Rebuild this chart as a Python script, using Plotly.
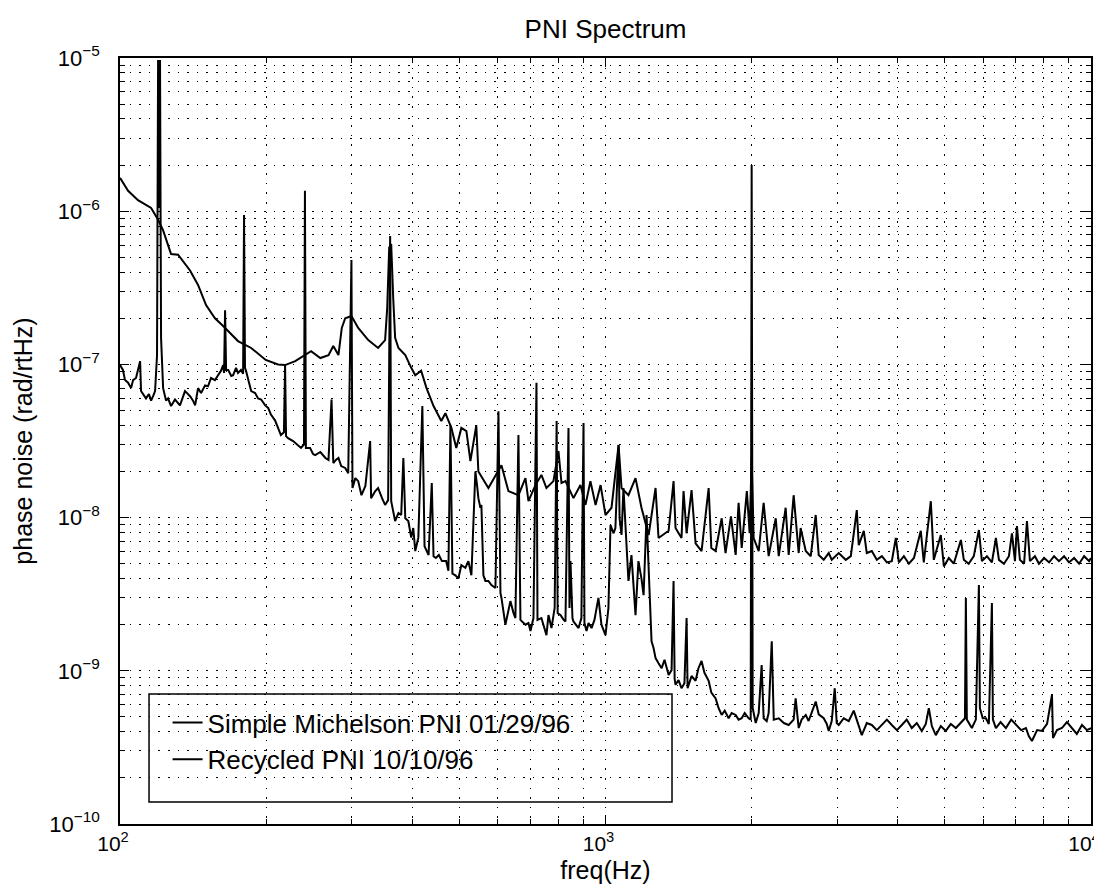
import plotly.graph_objects as go

# ---------------- data ----------------
michelson_freq = [
    100, 103.9, 108.9, 115.9, 119.8, 122.7, 127.4, 131.7, 139.4, 144.8, 150.4, 156.9, 163.1, 175.0,
    186.3, 199.6, 211.6, 218.8, 229.6, 240.4, 247.5, 258.6, 268.8, 275.0, 281.8, 286.3, 291.0, 299.7,
    309.5, 324.6, 340.1, 351.6, 355.1, 358.5, 361.9, 365.4, 368.7, 374.6, 386.9, 398.0, 405.7, 417.1,
    427.9, 442.4, 459.0, 467.9, 481.5, 492.8, 504.8, 517.0, 526.9, 541.8, 547.2, 573.9, 595.8, 610.5,
    631.0, 661.7, 684.1, 693.9, 717.3, 737.9, 755.7, 781.3, 800, 811.6, 827, 851, 859, 888, 909.5,
    931, 954, 977, 1000, 1029, 1064, 1079, 1115, 1153, 1186, 1227, 1268, 1286, 1349, 1381, 1394,
    1434, 1448, 1469, 1504, 1533, 1577, 1631, 1652, 1686, 1735, 1767, 1813, 1854, 1880, 1908, 1955,
    1981, 2000, 2019, 2068, 2117, 2168, 2242, 2274, 2350, 2384, 2441, 2500, 2523, 2585, 2647, 2710,
    2749, 2815, 2883, 2924, 3023, 3125, 3201, 3293, 3324, 3404, 3453, 3536, 3621, 3709, 3798, 3888,
    3963, 4020, 4117, 4216, 4318, 4461, 4525, 4678, 4745, 4905, 4977, 5095, 5216, 5395, 5471, 5598,
    5736, 5876, 5961, 6104, 6250, 6370, 6462, 6617, 6775, 6873, 6972, 7038, 7138, 7281, 7380, 7486,
    7665, 7813, 8007, 8198, 8394, 8590, 8800, 9010, 9230, 9450, 9680, 9910, 10000,
]
michelson_noise = [
    1.65e-6, 1.36e-6, 1.18e-6, 1.05e-6, 8.8e-7, 7.5e-7, 5.25e-7, 5.2e-7, 4.1e-7, 3.3e-7, 2.44e-7,
    2.0e-7, 1.78e-7, 1.42e-7, 1.28e-7, 1.07e-7, 1.0e-7, 9.9e-8, 1.05e-7, 1.15e-7, 1.22e-7, 1.10e-7,
    1.15e-7, 1.32e-7, 1.15e-7, 1.73e-7, 2.0e-7, 2.07e-7, 1.73e-7, 1.44e-7, 1.28e-7, 1.44e-7, 2.33e-7,
    5.8e-7, 6.1e-7, 2.7e-7, 1.49e-7, 1.28e-7, 1.15e-7, 9.5e-8, 8.5e-8, 9.1e-8, 7.0e-8, 5.35e-8,
    4.27e-8, 4.8e-8, 3.85e-8, 2.85e-8, 3.85e-8, 3.67e-8, 2.34e-8, 4.0e-8, 2.0e-8, 1.56e-8, 1.9e-8,
    2.2e-8, 1.49e-8, 1.40e-8, 1.81e-8, 1.28e-8, 1.63e-8, 1.9e-8, 1.56e-8, 1.73e-8, 2.72e-8, 1.68e-8,
    1.73e-8, 1.40e-8, 1.34e-8, 1.63e-8, 1.21e-8, 1.73e-8, 1.21e-8, 1.63e-8, 1.04e-8, 1.16e-8,
    2.98e-8, 1.56e-8, 1.40e-8, 1.81e-8, 1.16e-8, 7.7e-9, 1.56e-8, 7.36e-9, 8.2e-9, 1.73e-8, 8.55e-9,
    7.36e-9, 1.49e-8, 7.9e-9, 1.51e-8, 6.8e-9, 6.05e-9, 1.56e-8, 6.33e-9, 6.05e-9, 9.9e-9, 5.87e-9,
    1.02e-8, 5.7e-9, 1.25e-8, 6.33e-9, 1.49e-8, 7.9e-9, 2.45e-8, 7.36e-9, 6.05e-9, 1.25e-8, 5.6e-9,
    9.9e-9, 5.6e-9, 1.16e-8, 5.7e-9, 1.40e-8, 5.87e-9, 8.55e-9, 6.05e-9, 5.6e-9, 1.04e-8, 5.7e-9,
    5.3e-9, 5.87e-9, 5.3e-9, 5.87e-9, 5.3e-9, 5.6e-9, 1.12e-8, 6.6e-9, 8.2e-9, 5.87e-9, 6.05e-9,
    5.3e-9, 5.6e-9, 5.1e-9, 5.2e-9, 7.36e-9, 5.1e-9, 5.6e-9, 5.0e-9, 5.45e-9, 8.2e-9, 5.1e-9,
    1.28e-8, 5.3e-9, 7.7e-9, 4.8e-9, 5.45e-9, 5.0e-9, 7.14e-9, 5.3e-9, 5.0e-9, 5.6e-9, 8.3e-9,
    5.2e-9, 5.6e-9, 5.1e-9, 7.36e-9, 5.3e-9, 5.0e-9, 5.6e-9, 7.9e-9, 5.2e-9, 8.8e-9, 5.3e-9, 5.0e-9,
    9.5e-9, 5.2e-9, 5.6e-9, 5.0e-9, 5.45e-9, 5.1e-9, 5.6e-9, 5.2e-9, 5.6e-9, 5.1e-9, 5.45e-9,
    5.0e-9, 5.6e-9, 5.2e-9, 5.45e-9,
]

recycled_freq = [
    100, 101.4, 102.4, 103.9, 105.4, 106.4, 107.9, 109.4, 110.0, 110.5, 112.1, 113.1, 114.7, 115.9,
    117.0, 118.1, 119.2, 119.8, 120.4, 120.9, 121.5, 122.7, 124.4, 125.6, 127.4, 129.8, 132.9, 134.9,
    136.1, 138.1, 139.4, 141.4, 142.8, 144.8, 146.9, 149.7, 151.8, 154.0, 156.9, 159.2, 161.5, 163.1,
    163.8, 164.6, 165.4, 167.1, 169.5, 171.0, 173.4, 175.0, 177.5, 179.3, 180.1, 180.9, 181.8, 184.4,
    186.3, 189.8, 192.5, 195.3, 199.1, 201.9, 204.6, 208.7, 211.6, 214.5, 217.6, 218.8, 219.8, 221.9,
    227.3, 232.8, 235.9, 239.3, 240.4, 241.5, 246.3, 249.8, 252.4, 258.6, 264.9, 268.8, 272.7, 275.0,
    278.4, 281.8, 285.5, 291.0, 295.2, 299.7, 301.2, 305.3, 309.5, 314.3, 320.2, 327.5, 329.0, 335.6,
    340.1, 346.5, 351.6, 356.7, 360.1, 361.9, 368.7, 374.6, 379.5, 383.4, 386.9, 392.5, 398.0, 401.8,
    405.7, 411.6, 419.5, 423.9, 432.1, 438.7, 442.4, 447.3, 453.7, 460.4, 469.6, 474.7, 479.3, 483.8,
    490.7, 497.7, 504.8, 514.5, 521.9, 529.4, 534.5, 539.5, 544.6, 547.2, 552.4, 555.1, 560.4, 565.7,
    573.9, 582.2, 593.3, 601.9, 607.6, 610.5, 622, 631, 637, 646.5, 652.3, 661.7, 668, 684.1, 693.9,
    700.5, 710.6, 720.8, 724.3, 737.9, 748.4, 755.7, 763, 774, 785.7, 793.2, 797, 808.3, 820, 827,
    839, 843, 847, 855, 859, 871.5, 880, 892, 901, 905, 914, 922.6, 936, 949, 967, 981, 1000, 1014,
    1024, 1039, 1048, 1064, 1069, 1079, 1089, 1100, 1115, 1131, 1153, 1169, 1186, 1198, 1215, 1227,
    1238, 1244, 1256, 1268, 1286, 1305, 1323, 1349, 1368, 1381, 1388, 1394, 1414, 1434, 1454, 1469,
    1476, 1504, 1533, 1554, 1577, 1599, 1631, 1652, 1686, 1710, 1735, 1760, 1793, 1819, 1854, 1880,
    1908, 1935, 1972, 1991, 2000, 2010, 2039, 2068, 2097, 2117, 2148, 2168, 2200, 2221, 2274, 2330,
    2384, 2441, 2464, 2500, 2535, 2585, 2620, 2659, 2710, 2749, 2815, 2856, 2883, 2924, 2966, 2994,
    3023, 3096, 3170, 3246, 3293, 3372, 3453, 3536, 3621, 3709, 3798, 3888, 3983, 4077, 4172, 4275,
    4377, 4482, 4568, 4634, 4701, 4790, 4905, 5023, 5143, 5268, 5395, 5500, 5524, 5550, 5683, 5792,
    5876, 5904, 5985, 6074, 6160, 6250, 6280, 6370, 6513, 6679, 6849, 7005, 7180, 7345, 7445, 7557,
    7745, 7925, 8119, 8310, 8350, 8510, 8713, 8920, 9137, 9350, 9581, 9810, 10000,
]
recycled_noise = [
    9.9e-8, 9.2e-8, 7.9e-8, 7.6e-8, 7.0e-8, 7.9e-8, 8.15e-8, 9.5e-8, 1.05e-7, 6.7e-8, 6.3e-8, 6.0e-8,
    6.4e-8, 5.8e-8, 6.2e-8, 6.7e-8, 1.15e-7, 9.7e-6, 1.05e-6, 9.7e-6, 1.49e-7, 7.0e-8, 5.8e-8, 6.0e-8,
    5.35e-8, 5.9e-8, 5.4e-8, 6.2e-8, 6.7e-8, 6.4e-8, 6.2e-8, 5.8e-8, 5.4e-8, 7.0e-8, 6.5e-8, 7.3e-8,
    7.2e-8, 8.15e-8, 7.9e-8, 8.5e-8, 9.1e-8, 9.9e-8, 8.8e-8, 2.26e-7, 9.2e-8, 9.2e-8, 8.4e-8, 8.5e-8,
    9.5e-8, 8.8e-8, 9.2e-8, 8.7e-8, 9.45e-7, 9.5e-8, 9.1e-8, 7.6e-8, 6.7e-8, 6.5e-8, 6.0e-8, 5.9e-8,
    5.4e-8, 5.2e-8, 4.7e-8, 4.3e-8, 3.85e-8, 3.46e-8, 3.6e-8, 9.9e-8, 3.4e-8, 3.3e-8, 3.16e-8,
    2.98e-8, 2.85e-8, 3.0e-8, 1.36e-6, 2.85e-8, 2.85e-8, 2.6e-8, 2.56e-8, 2.68e-8, 2.45e-8, 2.38e-8,
    5.9e-8, 2.27e-8, 2.38e-8, 2.45e-8, 2.17e-8, 2.11e-8, 1.95e-8, 4.8e-7, 1.56e-8, 1.81e-8, 1.73e-8,
    1.40e-8, 1.61e-8, 3.16e-8, 1.34e-8, 1.49e-8, 1.56e-8, 1.34e-8, 1.21e-8, 1.30e-8, 6.9e-7, 1.28e-8,
    9.5e-9, 1.07e-8, 1.04e-8, 2.45e-8, 9.9e-9, 9.5e-9, 7.4e-9, 8.55e-9, 6.05e-9, 7.4e-9, 5.35e-8,
    6.5e-9, 5.7e-9, 1.68e-8, 5.6e-9, 5.45e-9, 5.7e-9, 5.2e-9, 5.2e-9, 4.5e-9, 4.0e-8, 4.3e-9, 4.2e-9,
    4.0e-9, 4.9e-9, 4.7e-9, 5.2e-9, 4.2e-9, 8.55e-9, 2.0e-8, 1.56e-8, 1.34e-8, 1.16e-8, 1.21e-8,
    4.2e-9, 3.86e-9, 3.86e-9, 3.63e-9, 3.47e-9, 4.95e-8, 3.22e-9, 2.99e-9, 2.0e-9, 2.57e-9, 2.85e-9,
    2.38e-9, 2.21e-9, 3.46e-8, 2.15e-9, 2.0e-9, 2.05e-9, 1.82e-9, 2.21e-9, 7.6e-8, 2.15e-9, 2.21e-9,
    1.90e-9, 1.71e-9, 2.31e-9, 1.90e-9, 2.57e-9, 4.27e-8, 2.38e-9, 2.31e-9, 2.15e-9, 2.1e-9, 3.85e-8,
    2.57e-9, 5.2e-9, 2.21e-9, 2.1e-9, 1.96e-9, 1.90e-9, 2.21e-9, 4.14e-8, 2.05e-9, 1.82e-9, 2.05e-9,
    1.90e-9, 2.15e-9, 2.99e-9, 2.0e-9, 1.71e-9, 2.57e-9, 8.95e-9, 7.9e-9, 8.55e-9, 2.98e-8, 9.9e-9,
    7.7e-9, 1.56e-8, 8.55e-9, 3.86e-9, 5.7e-9, 2.31e-9, 5.2e-9, 4.0e-9, 3.12e-9, 1.04e-8, 4.7e-9,
    2.31e-9, 1.56e-9, 1.41e-9, 1.21e-9, 1.12e-9, 1.04e-9, 1.18e-9, 9.4e-10, 1.01e-9, 3.86e-9, 8.9e-10,
    8.1e-10, 8.7e-10, 7.7e-10, 8.3e-10, 2.21e-9, 7.7e-10, 9.25e-10, 8.6e-10, 1.04e-9, 1.16e-9, 9.7e-10,
    8.6e-10, 7.2e-10, 6.6e-10, 5.7e-10, 5.15e-10, 5.5e-10, 4.9e-10, 5.3e-10, 5.15e-10, 4.8e-10,
    4.9e-10, 5.3e-10, 4.9e-10, 4.8e-10, 2.0e-6, 5.7e-10, 4.56e-10, 5.3e-10, 1.09e-9, 4.9e-10, 4.7e-10,
    5.3e-10, 1.56e-9, 4.8e-10, 4.9e-10, 4.56e-10, 4.43e-10, 4.8e-10, 6.6e-10, 4.23e-10, 4.8e-10,
    5.15e-10, 4.7e-10, 5.3e-10, 6.3e-10, 5.2e-10, 4.9e-10, 4.5e-10, 4.05e-10, 4.7e-10, 7.7e-10,
    4.56e-10, 4.43e-10, 4.9e-10, 4.7e-10, 5.5e-10, 4.8e-10, 3.8e-10, 4.56e-10, 4.43e-10, 4.1e-10,
    4.43e-10, 4.8e-10, 4.43e-10, 4.1e-10, 4.43e-10, 4.8e-10, 4.23e-10, 4.56e-10, 4.05e-10, 4.5e-10,
    5.7e-10, 4.36e-10, 3.8e-10, 4.36e-10, 4.05e-10, 4.5e-10, 4.23e-10, 4.63e-10, 4.9e-10, 2.99e-9,
    4.8e-10, 4.23e-10, 4.8e-10, 3.63e-9, 5.7e-10, 4.9e-10, 4.9e-10, 4.5e-10, 2.77e-9, 4.8e-10,
    4.23e-10, 4.63e-10, 4.23e-10, 4.8e-10, 4.43e-10, 4.1e-10, 4.23e-10, 3.75e-10, 3.48e-10, 4.1e-10,
    4.05e-10, 4.5e-10, 6.95e-10, 3.64e-10, 4.1e-10, 4.23e-10, 4.63e-10, 4.23e-10, 3.87e-10, 4.43e-10,
    4.1e-10, 4.23e-10,
]

x_major = [100, 1000, 10000]
x_major_text = ["10<sup>2</sup>", "10<sup>3</sup>", "10<sup>4</sup>"]
x_minor = [m * d for d in (100, 1000) for m in range(2, 10)]
y_major = [1e-10, 1e-9, 1e-8, 1e-7, 1e-6, 1e-5]
y_major_text = ["10<sup>\u221210</sup>", "10<sup>\u22129</sup>", "10<sup>\u22128</sup>",
                "10<sup>\u22127</sup>", "10<sup>\u22126</sup>", "10<sup>\u22125</sup>"]
y_minor = [m * d for d in (1e-10, 1e-9, 1e-8, 1e-7, 1e-6) for m in range(2, 10)]

FONT = "Liberation Sans, Arial, Helvetica, sans-serif"

fig = go.Figure()
fig.add_trace(go.Scatter(x=michelson_freq, y=michelson_noise, mode="lines",
                         name="Simple Michelson PNI 01/29/96",
                         line=dict(color="black", width=2)))
fig.add_trace(go.Scatter(x=recycled_freq, y=recycled_noise, mode="lines",
                         name="Recycled PNI 10/10/96",
                         line=dict(color="black", width=2)))

grid_dash = "1.6px,8px"
axis_common = dict(
    showline=True, linecolor="black", linewidth=1.5, mirror="allticks",
    ticks="inside", ticklen=9, tickwidth=1.2, tickcolor="black",
    showgrid=True, gridcolor="black", gridwidth=1.2, griddash=grid_dash,
    zeroline=False, automargin=False,
)

fig.update_xaxes(type="log", range=[2, 4], tickmode="array", tickvals=x_major,
                 ticktext=x_major_text,
                 tickfont=dict(family=FONT, size=21, color="black"),
                 ticklabelshift=-7, ticklabeloverflow="allow",
                 minor=dict(tickmode="array", tickvals=x_minor, ticks="inside", ticklen=5,
                            tickcolor="black", showgrid=True, gridcolor="black",
                            gridwidth=1.2, griddash=grid_dash),
                 title=dict(text="freq(Hz)", font=dict(family=FONT, size=25, color="black"),
                            standoff=8),
                 **axis_common)
fig.update_yaxes(type="log", range=[-10, -5], tickmode="array", tickvals=y_major,
                 ticktext=y_major_text,
                 tickfont=dict(family=FONT, size=22, color="black"),
                 minor=dict(tickmode="array", tickvals=y_minor, ticks="inside", ticklen=5,
                            tickcolor="black", showgrid=True, gridcolor="black",
                            gridwidth=1.2, griddash=grid_dash),
                 title=dict(text="phase noise (rad/rtHz)",
                            font=dict(family=FONT, size=25, color="black"), standoff=10),
                 ticklabelstandoff=14,
                 **axis_common)

fig.add_shape(type="rect", xref="paper", yref="paper", x0=0.0299, x1=0.5685, y0=0.0287,
              y1=0.1697, line=dict(color="black", width=1.5), fillcolor="rgba(0,0,0,0)",
              layer="above")

fig.update_layout(
    width=1102, height=892,
    margin=dict(l=112, r=19, t=50, b=76),
    paper_bgcolor="white", plot_bgcolor="white",
    title=dict(text="PNI Spectrum", x=0.5, xref="paper", xanchor="center",
               y=1 - 21 / 892, yref="container", yanchor="middle",
               font=dict(family=FONT, size=26, color="black")),
    showlegend=True,
    legend=dict(x=0.049, y=0.163, xanchor="left", yanchor="top",
                bgcolor="rgba(0,0,0,0)", borderwidth=0,
                font=dict(family=FONT, size=26, color="black"), tracegroupgap=0),
)

fig.write_html("out.html")
